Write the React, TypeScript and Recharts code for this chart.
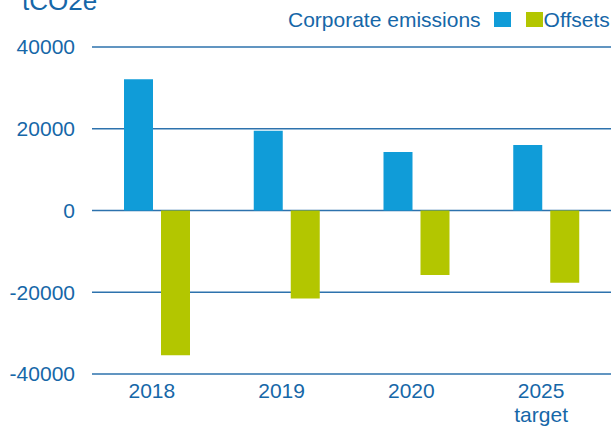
import { Bar, BarChart, CartesianGrid, XAxis, YAxis } from "recharts"

const categories = ["2018", "2019", "2020", "2025\ntarget"]
const corporateEmissions = [32100, 19500, 14300, 16000]
const offsets = [-35400, -21500, -15800, -17700]
const yTicks = [-40000, -20000, 0, 20000, 40000]

const data = categories.map((label, i) => ({
  label,
  emissions: corporateEmissions[i],
  offsets: offsets[i],
}))

const FONT = "'Liberation Sans', Arial, sans-serif"
const TEXT = "#1667a8"
const BLUE = "#109cd8"
const GREEN = "#b3c600"
const GRID = "#2d72ad"

function CategoryTick({ x, y, payload }: any) {
  const lines = String(payload.value).split("\n")
  return (
    <text x={x - 5} y={y} textAnchor="middle" fill={TEXT} fontSize={21} fontFamily={FONT}>
      {lines.map((line, i) => (
        <tspan key={line} x={x - 5} dy={i === 0 ? "0.76em" : 24}>
          {line}
        </tspan>
      ))}
    </text>
  )
}

function LegendBox({ color }: { color: string }) {
  return <span style={{ display: "inline-block", width: 17, height: 15, background: color }} />
}

export default function App() {
  return (
    <div style={{ position: "absolute", top: 0, left: 0, width: 616, height: 426, fontFamily: FONT, overflow: "hidden" }}>
      <div style={{ position: "absolute", left: 22, top: -14, fontSize: 26, color: TEXT, lineHeight: "30px" }}>tCO2e</div>
      <div
        style={{
          position: "absolute",
          left: 288,
          top: 9,
          fontSize: 21,
          color: TEXT,
          lineHeight: "21px",
          display: "flex",
          alignItems: "center",
          whiteSpace: "nowrap",
        }}
      >
        <span>Corporate emissions</span>
        <span style={{ width: 13 }} />
        <LegendBox color={BLUE} />
        <span style={{ width: 15 }} />
        <LegendBox color={GREEN} />
        <span style={{ marginLeft: 1 }}>Offsets</span>
      </div>
      <BarChart
        width={616}
        height={426}
        data={data}
        margin={{ top: 47, right: 5, left: 0, bottom: 0 }}
        barGap={8}
        barSize={29}
      >
        <CartesianGrid vertical={false} stroke={GRID} strokeWidth={1.5} />
        <XAxis
          dataKey="label"
          height={52}
          axisLine={false}
          tickLine={false}
          tickSize={0}
          tickMargin={8}
          interval={0}
          tick={<CategoryTick />}
        />
        <YAxis
          width={92}
          domain={[-40000, 40000]}
          ticks={yTicks}
          axisLine={false}
          tickLine={false}
          tickSize={0}
          tickMargin={17}
          tick={{ fontSize: 21, fill: TEXT, fontFamily: FONT }}
        />
        <Bar dataKey="emissions" fill={BLUE} isAnimationActive={false} />
        <Bar dataKey="offsets" fill={GREEN} isAnimationActive={false} />
      </BarChart>
    </div>
  )
}
